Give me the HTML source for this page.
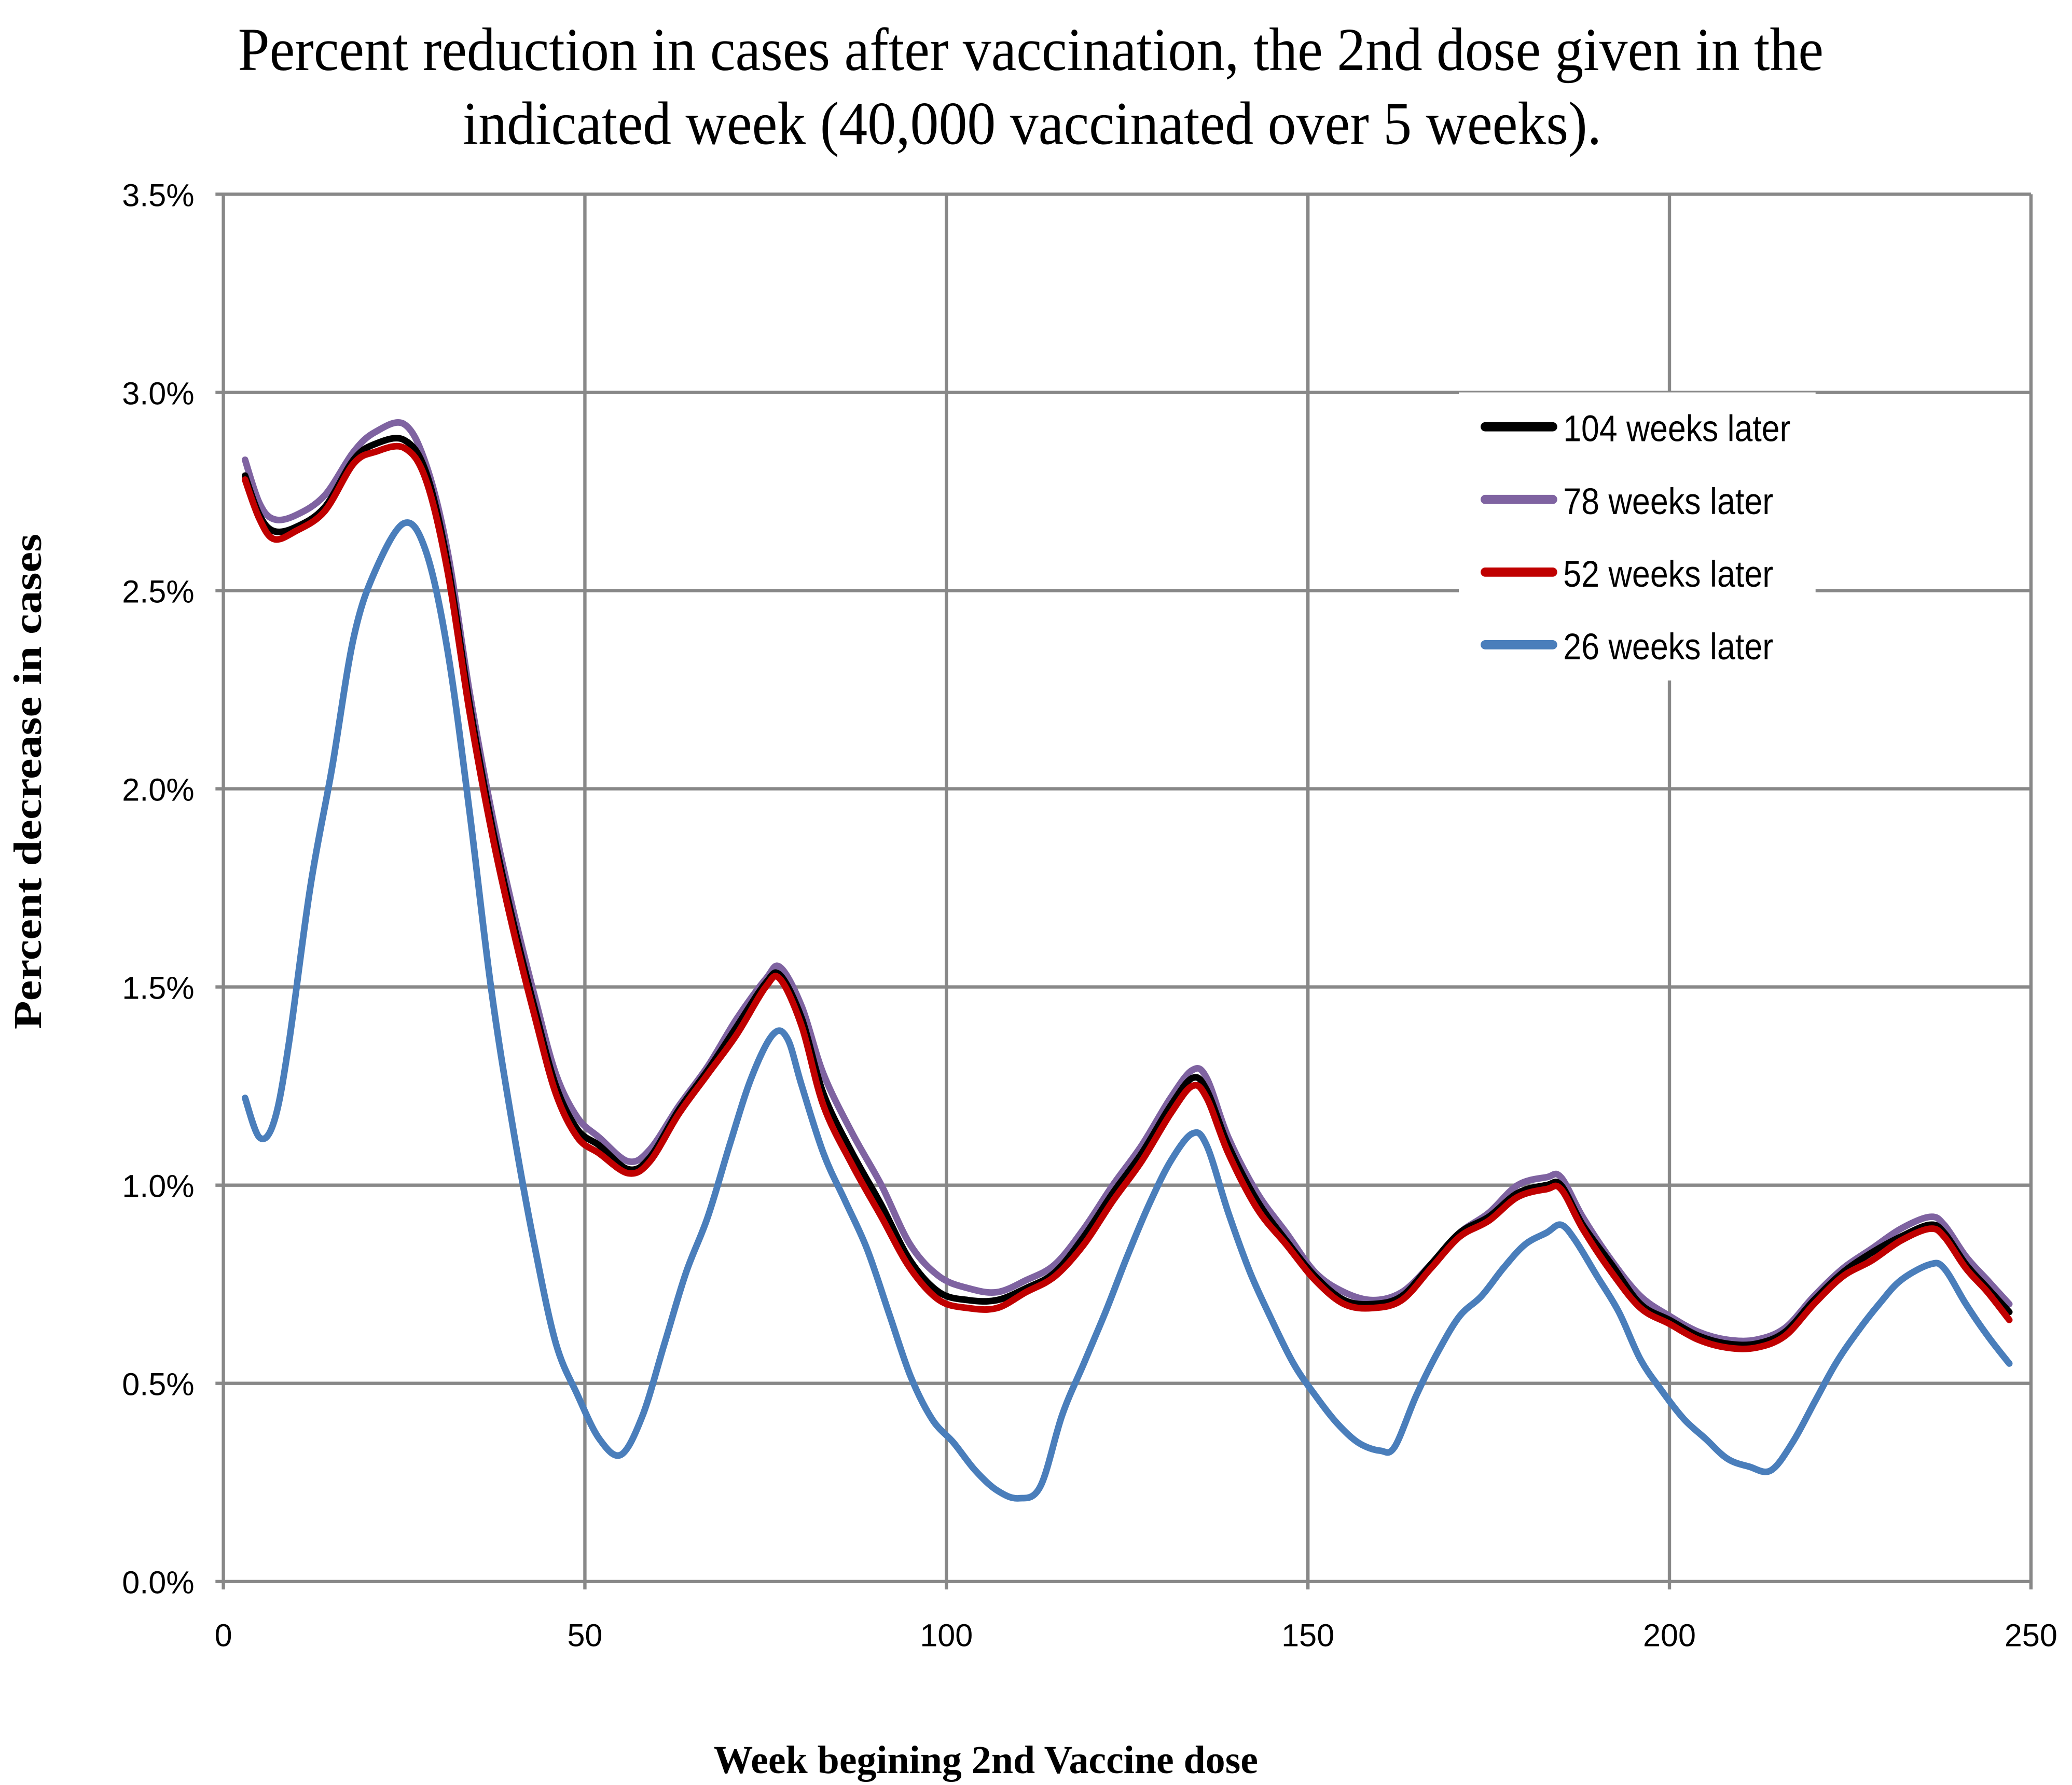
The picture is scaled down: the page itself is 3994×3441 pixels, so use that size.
<!DOCTYPE html>
<html><head><meta charset="utf-8">
<style>
html,body{margin:0;padding:0;background:#fff;}
svg{display:block;}
.tk{font-family:"Liberation Sans Narrow","Liberation Sans",sans-serif;font-size:24px;fill:#000;}
.lg{font-family:"Liberation Sans Narrow","Liberation Sans",sans-serif;font-size:28px;fill:#000;}
</style></head>
<body>
<svg id="chart" width="3994" height="3441" viewBox="0 0 1568 1351" xmlns="http://www.w3.org/2000/svg">
<rect x="0" y="0" width="1568" height="1351" fill="#fff"/>
<g font-family="Liberation Serif, serif" font-size="46">
<text x="180" y="53" textLength="1200" lengthAdjust="spacingAndGlyphs">Percent reduction in cases after vaccination, the 2nd dose given in the</text>
<text x="350" y="109" textLength="862" lengthAdjust="spacingAndGlyphs">indicated week (40,000 vaccinated over 5 weeks).</text>
</g>
<g id="grid"></g>
<g id="series"></g>
<g id="legend">
<rect x="1104" y="297" width="270" height="218" fill="#fff"/>
</g>
<text transform="translate(31,592) rotate(-90)" x="-187" y="0" textLength="375" lengthAdjust="spacingAndGlyphs" font-family="Liberation Serif, serif" font-weight="bold" font-size="30">Percent  decrease in cases</text>
<text x="540" y="1342" textLength="412" lengthAdjust="spacingAndGlyphs" font-family="Liberation Serif, serif" font-weight="bold" font-size="30">Week begining 2nd Vaccine dose</text>
</svg>
<script>
const xTicks=[0,50,100,150,200,250];
const yTicks=[0,0.5,1.0,1.5,2.0,2.5,3.0,3.5];
const seriesNames=["104 weeks later","78 weeks later","52 weeks later","26 weeks later"];
const seriesColors=["#000000","#7f63a1","#c00000","#4a7ebb"];
const weeksMain=[3,5,7,10,14,18,21,25,28,31,34,37,40,43,46,49,52,56,59,63,67,71,75,77,80,83,87,91,95,99,103,107,111,115,119,123,127,131,134,136,139,143,147,151,155,159,163,167,171,175,179,183,185,188,192,196,200,204,208,212,216,220,224,228,232,236,238,241,244,247];
const vals78=[2.83,2.72,2.68,2.69,2.74,2.85,2.9,2.92,2.82,2.6,2.25,1.95,1.7,1.48,1.28,1.17,1.12,1.06,1.09,1.2,1.3,1.42,1.52,1.55,1.45,1.28,1.13,1.0,0.85,0.77,0.74,0.73,0.76,0.8,0.89,1.0,1.1,1.22,1.29,1.27,1.12,0.98,0.88,0.78,0.73,0.71,0.73,0.8,0.88,0.93,1.0,1.02,1.02,0.92,0.81,0.72,0.67,0.63,0.61,0.61,0.64,0.72,0.79,0.84,0.89,0.92,0.9,0.82,0.76,0.7];
const vals52=[2.78,2.68,2.63,2.65,2.7,2.82,2.85,2.86,2.78,2.55,2.2,1.9,1.65,1.43,1.23,1.12,1.08,1.03,1.06,1.18,1.28,1.38,1.5,1.52,1.4,1.2,1.05,0.92,0.79,0.71,0.69,0.69,0.73,0.77,0.85,0.96,1.06,1.18,1.25,1.22,1.08,0.94,0.85,0.76,0.7,0.69,0.71,0.79,0.87,0.91,0.97,0.99,0.99,0.89,0.78,0.69,0.65,0.61,0.59,0.59,0.62,0.7,0.77,0.81,0.86,0.89,0.87,0.79,0.73,0.66];
const vals104=[2.79,2.69,2.65,2.66,2.71,2.83,2.87,2.88,2.8,2.57,2.22,1.92,1.67,1.45,1.25,1.14,1.1,1.04,1.07,1.19,1.29,1.4,1.51,1.53,1.42,1.23,1.08,0.95,0.81,0.73,0.71,0.71,0.74,0.78,0.87,0.98,1.08,1.2,1.27,1.24,1.1,0.96,0.86,0.77,0.71,0.7,0.72,0.8,0.88,0.92,0.98,1.0,1.0,0.9,0.8,0.7,0.66,0.62,0.6,0.6,0.63,0.71,0.78,0.83,0.87,0.9,0.88,0.8,0.74,0.68];
const weeksBlue=[3,5,7,9,12,15,18,21,25,28,31,34,37,40,43,46,49,52,55,58,61,64,67,70,73,76,78,80,83,86,89,92,95,98,101,104,107,110,113,116,119,122,125,128,131,134,136,139,142,145,148,151,154,157,160,162,165,168,171,174,177,180,183,185,187,190,193,196,199,202,205,208,211,214,217,220,223,226,229,232,236,238,241,244,247];
const vals26=[1.22,1.12,1.16,1.35,1.75,2.05,2.38,2.55,2.67,2.6,2.35,1.95,1.5,1.15,0.85,0.6,0.47,0.36,0.32,0.42,0.6,0.78,0.92,1.1,1.27,1.38,1.37,1.25,1.08,0.96,0.84,0.68,0.52,0.41,0.35,0.28,0.23,0.21,0.24,0.42,0.55,0.68,0.82,0.95,1.06,1.13,1.1,0.93,0.78,0.66,0.55,0.47,0.4,0.35,0.33,0.34,0.47,0.58,0.67,0.72,0.79,0.85,0.88,0.9,0.86,0.77,0.68,0.56,0.48,0.41,0.36,0.31,0.29,0.28,0.35,0.45,0.55,0.63,0.7,0.76,0.8,0.79,0.7,0.62,0.55];

const NS="http://www.w3.org/2000/svg";
const X0=169,X1=1537,Y0=1197,Y1=147;
function xs(v){return X0+(v-0)*(X1-X0)/250;}
function ys(p){return Y0-(p-0)*(Y0-Y1)/3.5;}
function mk(tag,attrs,parent){const e=document.createElementNS(NS,tag);for(const k in attrs)e.setAttribute(k,attrs[k]);parent.appendChild(e);return e;}
const grid=document.getElementById('grid');
yTicks.forEach(t=>{
  const l=mk('line',{x1:X0-6,x2:X1,y1:ys(t),y2:ys(t),stroke:'#888',"stroke-width":2.5},grid);
  
  
  const tx=mk('text',{x:X0-22,y:ys(t)+9,"text-anchor":"end",class:"tk"},grid);
  tx.textContent=t.toFixed(1)+'%';
  
  
});
xTicks.forEach(t=>{
  const l=mk('line',{x1:xs(t),x2:xs(t),y1:Y1,y2:Y0+6,stroke:'#888',"stroke-width":2.5},grid);
  
  
  const tx=mk('text',{x:xs(t),y:Y0+49,"text-anchor":"middle",class:"tk"},grid);
  tx.textContent=String(t);
  
  
});
function pathD(xsArr,vs){
  const p=xsArr.map((w,i)=>[xs(w),ys(vs[i])]);
  let d='M'+p[0][0].toFixed(1)+','+p[0][1].toFixed(1);
  for(let i=0;i<p.length-1;i++){
    const a=p[Math.max(0,i-1)],b=p[i],c=p[i+1],e=p[Math.min(p.length-1,i+2)];
    const c1=[b[0]+(c[0]-a[0])/6,b[1]+(c[1]-a[1])/6],c2=[c[0]-(e[0]-b[0])/6,c[1]-(e[1]-b[1])/6];
    d+=' C'+c1.map(v=>v.toFixed(1)).join(',')+' '+c2.map(v=>v.toFixed(1)).join(',')+' '+c.map(v=>v.toFixed(1)).join(',');
  }
  return d;
}
const ser=document.getElementById('series');
[[3,weeksBlue,vals26],[1,weeksMain,vals78],[0,weeksMain,vals104],[2,weeksMain,vals52]].forEach(([i,w,v])=>{
  const p=mk('path',{d:pathD(w,v),fill:'none',stroke:seriesColors[i],"stroke-width":5,"stroke-linejoin":"round","stroke-linecap":"round"},ser);
  
  
});
const legendWidths=[172,159,159,159];
const lg=document.getElementById('legend');
seriesNames.forEach((n,i)=>{
  const y=323+i*55;
  const l=mk('line',{x1:1124,x2:1175,y1:y,y2:y,stroke:seriesColors[i],"stroke-width":7,"stroke-linecap":"round"},lg);
  
  
  const t=mk('text',{x:1183,y:y+11,class:"lg",textLength:legendWidths[i],lengthAdjust:"spacingAndGlyphs"},lg);
  t.textContent=n;
  
  
});
</script>
</body></html>
